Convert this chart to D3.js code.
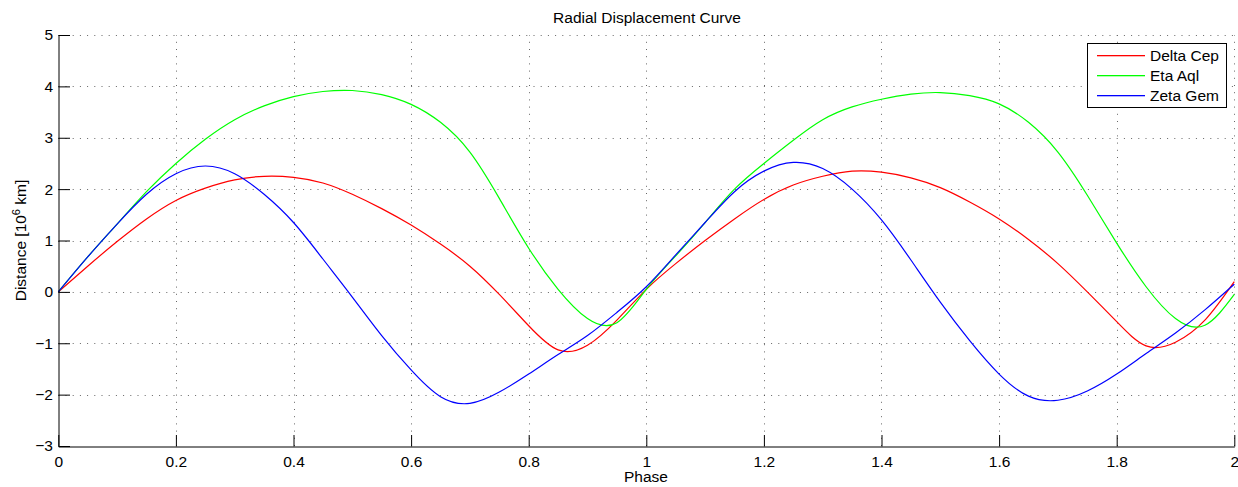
<!DOCTYPE html>
<html><head><meta charset="utf-8">
<script src="https://cdn.jsdelivr.net/npm/d3@7"></script>
<style>body{margin:0;background:#fff}svg{display:block}text{font-family:"Liberation Sans",Arial,sans-serif;fill:#000}</style>
</head><body>
<svg id="c" width="1238" height="487"></svg>
<script>
const phase = d3.range(0, 41).map(i => +(i * 0.05).toFixed(2));
const deltaCep = [0,0.5,0.98,1.42,1.78,2.02,2.18,2.25,2.23,2.12,1.9,1.62,1.3,0.93,0.5,-0.05,-0.66,-1.13,-1.04,-0.55,0.05,
  0.55,1.0,1.42,1.8,2.08,2.25,2.35,2.33,2.22,2.03,1.75,1.42,1.02,0.55,0.0,-0.58,-1.05,-0.98,-0.55,0.2];
const etaAql = [0,0.68,1.32,1.95,2.5,2.97,3.35,3.62,3.8,3.9,3.92,3.84,3.65,3.3,2.72,1.82,0.85,0.05,-0.52,-0.6,0.05,
  0.7,1.35,2.0,2.5,2.95,3.35,3.6,3.75,3.85,3.88,3.82,3.66,3.3,2.72,1.88,0.95,0.1,-0.52,-0.65,-0.05];
const zetaGem = [0,0.68,1.32,1.9,2.3,2.45,2.3,1.9,1.35,0.64,-0.1,-0.85,-1.52,-2.04,-2.17,-1.95,-1.6,-1.22,-0.85,-0.4,0.1,
  0.72,1.35,1.95,2.35,2.52,2.4,2.0,1.4,0.62,-0.2,-0.95,-1.6,-2.03,-2.11,-1.93,-1.6,-1.2,-0.8,-0.35,0.15];
const seriesNames = ["Delta Cep","Eta Aql","Zeta Gem"];
const seriesColors = ["#ff0000","#00ff00","#0000ff"];
const xTicks = [0,0.2,0.4,0.6,0.8,1,1.2,1.4,1.6,1.8,2];
const yTicks = [-3,-2,-1,0,1,2,3,4,5];

const svg = d3.select("#c");
const L = 58.3, R = 1234.3, T = 35, B = 446;
const x = d3.scaleLinear().domain([0,2]).range([L,R]);
const y = d3.scaleLinear().domain([-3,5]).range([B,T]);
const fmt = v => (v < 0 ? "\u2212" + Math.abs(v) : String(v));

// grid
const grid = svg.append("g").attr("stroke","#333").attr("stroke-width",1).attr("stroke-dasharray","1,6.2").attr("stroke-opacity",0.75);
grid.selectAll("line.v").data(xTicks.filter(d=>d>0)).join("line").attr("class","v")
  .attr("x1",d=>Math.round(x(d))+0.5).attr("x2",d=>Math.round(x(d))+0.5).attr("y1",B).attr("y2",T);
grid.selectAll("line.h").data(yTicks.filter(d=>d>-3)).join("line").attr("class","h")
  .attr("y1",d=>Math.round(y(d))+0.5).attr("y2",d=>Math.round(y(d))+0.5).attr("x1",L).attr("x2",R);

// curves
const data = [deltaCep, etaAql, zetaGem];
const line = d3.line().x((d,i)=>x(phase[i])).y(d=>y(d)).curve(d3.curveNatural);
svg.append("g").selectAll("path").data(data).join("path")
  .attr("d", d=>line(d)).attr("fill","none").style("stroke",(d,i)=>seriesColors[i]).attr("stroke-width",1.2);

// axes
const xAxis = d3.axisBottom(x).tickValues(xTicks).tickSizeInner(-11.5).tickSizeOuter(0).tickPadding(20).tickFormat(fmt);
const gx = svg.append("g").attr("transform",`translate(0,${Math.round(B)+0.5})`).call(xAxis);
gx.selectAll("text").attr("font-size","15.5px").attr("dy","0").attr("y",20.5).attr("font-family","Liberation Sans, Arial, sans-serif");
const yAxis = d3.axisLeft(y).tickValues(yTicks).tickSizeInner(-11.5).tickSizeOuter(0).tickPadding(5).tickFormat(fmt);
const gy = svg.append("g").attr("transform",`translate(${Math.round(L)+0.5},0)`).call(yAxis);
gy.selectAll("text").attr("font-size","15.5px").attr("x",-5.5).attr("font-family","Liberation Sans, Arial, sans-serif");
gx.select(".domain").attr("stroke","#000");
gy.select(".domain").attr("stroke","#000");
gx.selectAll(".tick line").attr("stroke","#000");
gy.selectAll(".tick line").attr("stroke","#000");

// labels
svg.append("text").attr("x",647).attr("y",23).attr("text-anchor","middle").attr("font-size","15.5px").text("Radial Displacement Curve");
svg.append("text").attr("x",646).attr("y",482).attr("text-anchor","middle").attr("font-size","15.5px").text("Phase");
const yl = svg.append("text").attr("transform","translate(25.5,240.5) rotate(-90)").attr("text-anchor","middle").attr("font-size","15.5px");
yl.append("tspan").text("Distance [10");
yl.append("tspan").attr("font-size","11px").attr("dy","-6").text("6");
yl.append("tspan").attr("dy","6").text(" km]");

// legend
const lg = svg.append("g");
lg.append("rect").attr("x",1087.5).attr("y",43.5).attr("width",139).attr("height",64).attr("fill","#fff").attr("stroke","#000").attr("stroke-width",1);
const items = lg.selectAll("g.item").data(seriesNames).join("g").attr("class","item")
  .attr("transform",(d,i)=>`translate(0,${55 + i*20})`);
items.append("rect").attr("x",1097).attr("y",0).attr("width",48).attr("height",1.3).attr("fill",(d,i)=>seriesColors[i]);
items.append("text").attr("x",1150).attr("y",6).attr("font-size","15.5px").text(d=>d);
</script>
</body></html>
